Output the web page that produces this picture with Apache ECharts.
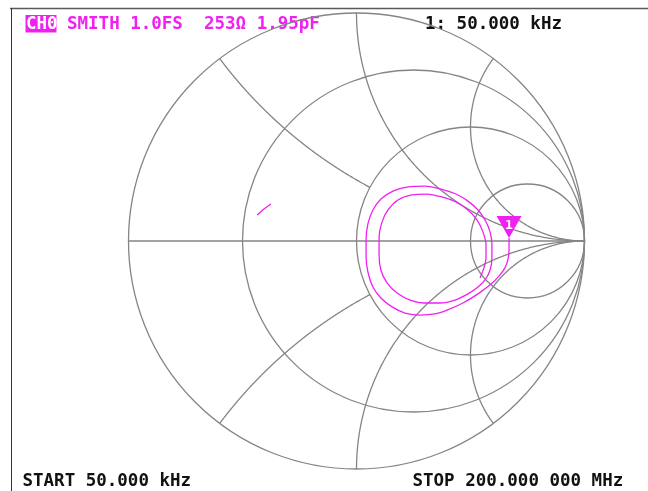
<!DOCTYPE html>
<html><head><meta charset="utf-8">
<script src="https://cdn.jsdelivr.net/npm/echarts@6/dist/echarts.min.js"></script>
<style>html,body{margin:0;padding:0;background:#fff}#c{width:648px;height:491px}</style>
</head><body><div id="c"></div>
<script>
const traceRe = [0.669,0.669,0.664,0.651,0.625,0.590,0.533,0.467,0.397,0.344,0.279,0.213,0.156,0.107,0.072,0.050,0.042,0.042,0.050,0.072,0.107,0.160,0.226,0.300,0.371,0.436,0.489,0.533,0.564,0.586,0.594,0.594,0.586,0.564,
  0.533,0.489,0.432,0.366,0.300,0.235,0.178,0.134,0.107,0.099,0.099,0.112,0.138,0.182,0.243,0.309,0.375,0.436,0.489,0.529,0.555,0.568,0.568,0.559,0.542];
const traceIm = [0.013,-0.039,-0.083,-0.118,-0.154,-0.189,-0.232,-0.272,-0.303,-0.320,-0.325,-0.316,-0.289,-0.250,-0.202,-0.136,-0.066,0.004,0.075,0.136,0.184,0.219,0.237,0.241,0.228,0.206,0.175,0.136,0.092,0.039,-0.018,-0.075,-0.127,-0.171,
  -0.202,-0.232,-0.259,-0.272,-0.272,-0.259,-0.228,-0.184,-0.127,-0.061,0.013,0.083,0.136,0.180,0.202,0.206,0.193,0.171,0.136,0.092,0.039,-0.018,-0.075,-0.118,-0.162];
const glitchRe = [-0.436,-0.406,-0.375];
const glitchIm = [0.114,0.140,0.162];
const markerLabel = '1';

// Graticule definition
const resistanceCircles = [0, 1/3, 1, 3];
const reactanceArcs = [0.5, -0.5, 1, -1, 2, -2];
const reactanceArcEnd = [1, 1, Infinity, Infinity, Infinity, Infinity];

// Annotation texts
const headerBadge = 'CH0';
const headerLeft = 'SMITH 1.0FS  253\u03a9 1.95pF';
const headerRight = '1: 50.000 kHz';
const footerLeft = 'START 50.000 kHz';
const footerRight = 'STOP 200.000 000 MHz';

const MAG = '#f020f0';
const GRID = '#858585';

function gammaOf(r, x) {
  if (!isFinite(r)) return [1, 0];
  const den = (r + 1) * (r + 1) + x * x;
  return [(r * r - 1 + x * x) / den, (2 * x) / den];
}

function renderGraticule(params, api) {
  const children = [];
  const a = api.coord([-1, 0]), b = api.coord([1, 0]);
  children.push({type: 'line', shape: {x1: a[0], y1: a[1], x2: b[0], y2: b[1]},
    style: {stroke: GRID, lineWidth: 1.6}});
  resistanceCircles.forEach(function (r) {
    const c = api.coord([r / (r + 1), 0]);
    const rad = api.size([1 / (r + 1), 0])[0];
    children.push({type: 'circle', shape: {cx: c[0], cy: c[1], r: rad},
      style: {fill: null, stroke: GRID, lineWidth: 1.3}});
  });
  reactanceArcs.forEach(function (x, k) {
    const rEnd = reactanceArcEnd[k];
    const sEnd = isFinite(rEnd) ? rEnd / (1 + rEnd) : 1;
    const pts = [];
    const N = 400;
    for (let i = 0; i <= N; i++) {
      const s = sEnd * i / N;
      const r = s >= 1 ? Infinity : s / (1 - s);
      pts.push(api.coord(gammaOf(r, x)));
    }
    children.push({type: 'polyline', shape: {points: pts},
      style: {fill: null, stroke: GRID, lineWidth: 1.3}});
  });
  return {type: 'group', children: children};
}

const chart = echarts.init(document.getElementById('c'), null, {renderer: 'canvas'});
const FONT = 'bold 17.5px "DejaVu Sans Mono", "Liberation Mono", monospace';

chart.setOption({
  animation: false,
  backgroundColor: '#ffffff',
  grid: {left: 128.5, top: 13, width: 456, height: 456},
  xAxis: {type: 'value', min: -1, max: 1, show: false},
  yAxis: {type: 'value', min: -1, max: 1, show: false},
  graphic: [
    {type: 'line', shape: {x1: 10, y1: 8.5, x2: 648, y2: 8.5}, style: {stroke: '#5a5a5a', lineWidth: 1.6}},
    {type: 'line', shape: {x1: 11.5, y1: 8, x2: 11.5, y2: 491}, style: {stroke: '#333333', lineWidth: 1}},
    {type: 'rect', shape: {x: 25.5, y: 15, width: 31, height: 17.5}, style: {fill: MAG}},
    {type: 'text', x: 26, y: 24, style: {text: headerBadge, font: FONT, fill: '#ffffff', verticalAlign: 'middle'}},
    {type: 'text', x: 67, y: 24, style: {text: headerLeft, font: FONT, fill: MAG, verticalAlign: 'middle'}},
    {type: 'text', x: 425, y: 24, style: {text: headerRight, font: FONT, fill: '#111111', verticalAlign: 'middle'}},
    {type: 'text', x: 22.5, y: 481.5, style: {text: footerLeft, font: FONT, fill: '#111111', verticalAlign: 'middle'}},
    {type: 'text', x: 412.5, y: 481.5, style: {text: footerRight, font: FONT, fill: '#111111', verticalAlign: 'middle'}}
  ],
  series: [
    {type: 'custom', renderItem: renderGraticule, data: [[0, 0]], silent: true, clip: false, z: 1},
    {type: 'line', data: traceRe.map(function (v, i) { return [v, traceIm[i]]; }),
      showSymbol: false, smooth: 0.25, lineStyle: {color: MAG, width: 1.3}, z: 3},
    {type: 'line', data: glitchRe.map(function (v, i) { return [v, glitchIm[i]]; }),
      showSymbol: false, lineStyle: {color: MAG, width: 1.3}, z: 3},
    {type: 'scatter', data: [[traceRe[0], traceIm[0]]], symbol: 'triangle', symbolRotate: 180,
      symbolSize: [25, 22], symbolOffset: [0, -11], itemStyle: {color: MAG, opacity: 1}, z: 4,
      label: {show: true, formatter: markerLabel, position: 'inside', color: '#ffffff',
        fontWeight: 'bold', fontSize: 13, fontFamily: 'DejaVu Sans Mono', offset: [0, -1]}}
  ]
});
</script></body></html>
